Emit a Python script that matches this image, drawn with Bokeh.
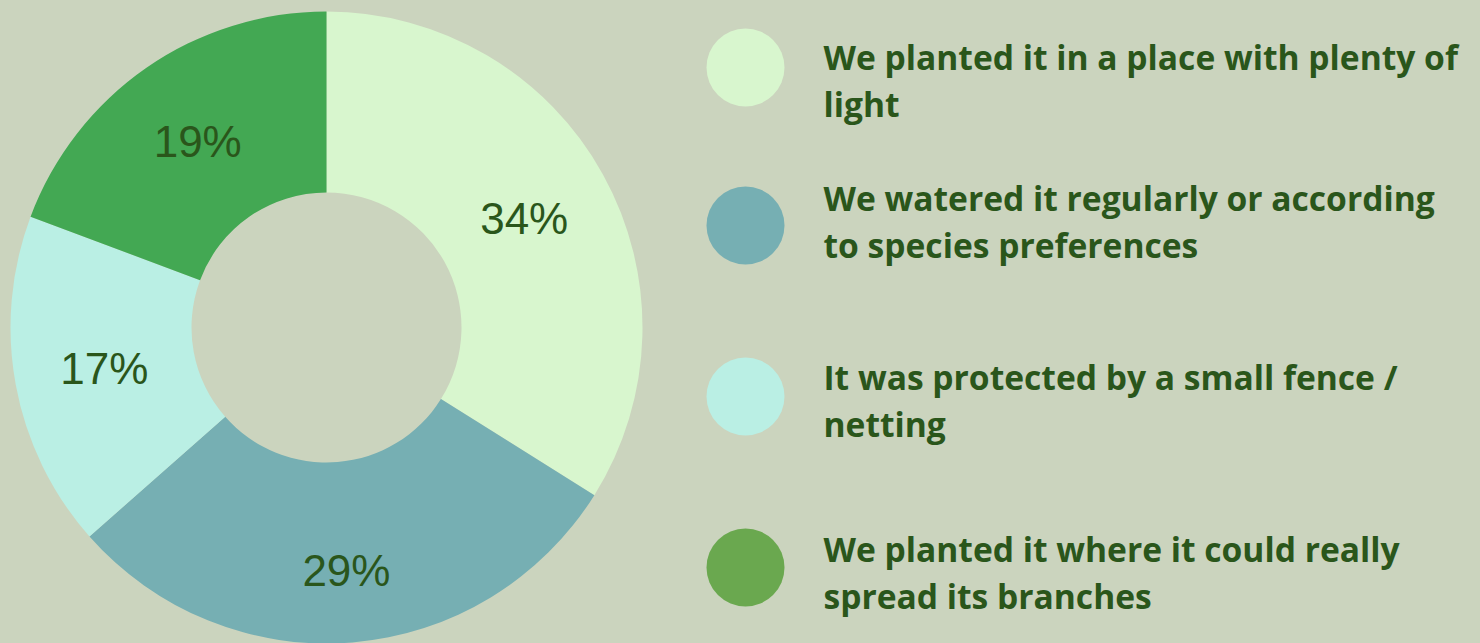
from math import sin, cos, radians
from bokeh.plotting import figure
from bokeh.embed import file_html
from bokeh.resources import INLINE
from bokeh.core.properties import value

# ---- data ----
categories = [
    "We planted it in a place with plenty of\nlight",
    "We watered it regularly or according\nto species preferences",
    "It was protected by a small fence /\nnetting",
    "We planted it where it could really\nspread its branches",
]
shares = [33.9, 29.6, 17.2, 19.3]
pct_labels = ["34%", "29%", "17%", "19%"]
slice_colors = ["#D8F6CE", "#76AFB3", "#BAEFE4", "#43A853"]
legend_colors = ["#D8F6CE", "#76AFB3", "#BAEFE4", "#6AA84F"]

BG = "#CBD4BE"
TXT = "#2A561B"

W, H = 1480, 643
p = figure(width=W, height=H, x_range=(0, W), y_range=(0, H),
           output_backend="svg", toolbar_location=None, min_border=0)
p.axis.visible = False
p.grid.visible = False
p.outline_line_color = None
p.background_fill_color = BG
p.border_fill_color = BG

cx, cy = 326, 643 - 327
r_out, r_in = 316, 135

total = sum(shares)
cum = 0.0
starts, ends, mids = [], [], []
for s in shares:
    a0 = 90 - cum / total * 360
    cum += s
    a1 = 90 - cum / total * 360
    starts.append(a0)
    ends.append(a1)
    mids.append((a0 + a1) / 2)

p.annular_wedge(x=[cx] * 4, y=[cy] * 4, inner_radius=r_in, outer_radius=r_out,
                start_angle=starts, end_angle=ends, start_angle_units="deg",
                end_angle_units="deg",
                direction="clock", fill_color=slice_colors, line_color=None)

label_r = [226, 244, 226, 226]  # label distance from centre (layout)
lx = [cx + r * cos(radians(m)) for r, m in zip(label_r, mids)]
ly = [cy + r * sin(radians(m)) for r, m in zip(label_r, mids)]
p.text(x=lx, y=ly, text=pct_labels, text_align="center", text_baseline="middle",
       text_font=value("Liberation Sans"), text_font_size="44px", text_color=TXT)

# legend layout (screen y from top)
circle_y = [67, 225, 396, 567]
first_baseline = [56, 197, 376, 548]
line_gap = 47
for i, (lab, col) in enumerate(zip(categories, legend_colors)):
    p.scatter(x=[745], y=[H - circle_y[i]], size=78, marker="circle",
              fill_color=col, line_color=None)
    for j, ln in enumerate(lab.split("\n")):
        p.text(x=[823], y=[H - (first_baseline[i] + j * line_gap)], text=[ln],
               text_align="left", text_baseline="alphabetic",
               text_font=value("Open Sans"), text_font_style="bold",
               text_font_size="33.6px", text_color=TXT)

html = file_html(p, INLINE)
html = html.replace("<head>", "<head><style>body{background:%s;}</style>" % BG, 1)
open("out.html", "w").write(html)
